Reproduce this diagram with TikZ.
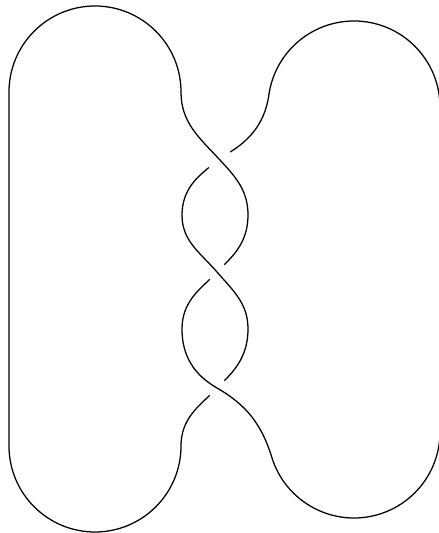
\documentclass[tikz,border=0pt]{standalone}
\usepackage{tikz}
\usetikzlibrary{calc}
\definecolor{mydark}{RGB}{0,0,0}
\tikzset{
  strand/.style={line width=0.9pt, color=mydark},
  gapend/.style={strand, shorten >=#1},
  gapstart/.style={strand, shorten <=#1}
}
\begin{document}
\begin{tikzpicture}[x=0.025cm, y=0.025cm]
  \useasboundingbox (0,0) rectangle (439,533);
  % Ends of the two lobes
  \coordinate (tl) at (181,441);
  \coordinate (bl) at (181,87);
  \coordinate (tr) at (268.84,437.97);
  \coordinate (br) at (272.03,75.0);
  % Crossings
  \coordinate (c1) at (219,374);
  \coordinate (c2) at (217,261);
  \coordinate (c3) at (217,145);
  % Bulges between crossings
  \coordinate (lb1) at (182,318);
  \coordinate (rb1) at (248,318);
  \coordinate (lb2) at (182,204);
  \coordinate (rb2) at (248,204);
  % Left lobe
  \draw[strand] (bl) arc[start angle=0, end angle=-180, radius=86] -- ++(0,354)
    arc[start angle=180, end angle=0, radius=86];
  % Right lobe
  \draw[strand] (br) arc[start angle=197.6, end angle=360, radius=86] -- ++(0,325)
    arc[start angle=0, end angle=172, radius=86];
  % Over strands
  \draw[strand] (tl) to[out=-90, in=133] (c1) to[out=-47, in=90] (rb1);
  \draw[strand] (lb1) to[out=-90, in=131] (c2) to[out=-49, in=90] (rb2);
  \draw[strand] (lb2) to[out=-90, in=150] (c3) to[out=-30, in=107] (br);
  % Under strands
  \draw[gapend=0.33cm] (tr) to[out=-98, in=32] (c1);
  \draw[gapstart=0.33cm] (c1) to[out=-140, in=90] (lb1);
  \draw[gapend=0.26cm] (rb1) to[out=-90, in=45] (c2);
  \draw[gapstart=0.26cm] (c2) to[out=-135, in=90] (lb2);
  \draw[gapend=0.26cm] (rb2) to[out=-90, in=45] (c3);
  \draw[gapstart=0.26cm] (c3) to[out=-135, in=90] (bl);
\end{tikzpicture}
\end{document}
